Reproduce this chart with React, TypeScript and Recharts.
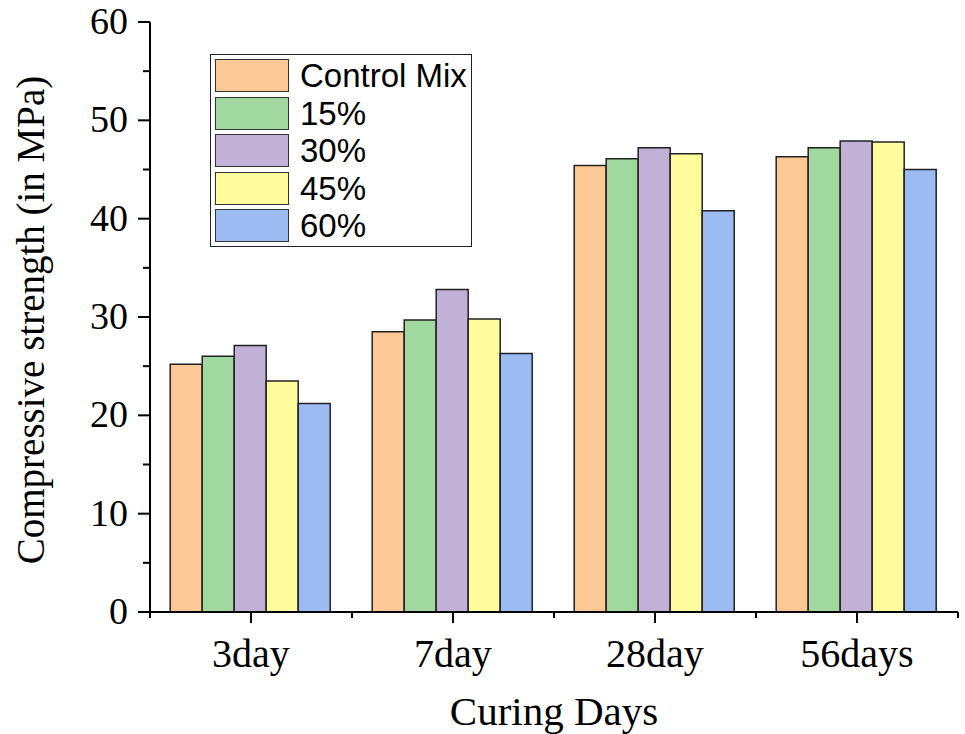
import React from 'react';
import { BarChart, Bar, XAxis, YAxis } from 'recharts';

const DAYS = ['3day', '7day', '28day', '56days'];
const CONTROL_MIX = [25.2, 28.5, 45.4, 46.3];
const PCT_15 = [26.0, 29.7, 46.1, 47.2];
const PCT_30 = [27.1, 32.8, 47.2, 47.9];
const PCT_45 = [23.5, 29.8, 46.6, 47.8];
const PCT_60 = [21.2, 26.3, 40.8, 45.0];
const Y_TICKS = [0, 5, 10, 15, 20, 25, 30, 35, 40, 45, 50, 55, 60];

const SERIES = [
  { key: 'control', name: 'Control Mix', values: CONTROL_MIX, color: '#fcc896' },
  { key: 'p15', name: '15%', values: PCT_15, color: '#a0d89f' },
  { key: 'p30', name: '30%', values: PCT_30, color: '#c2b1d6' },
  { key: 'p45', name: '45%', values: PCT_45, color: '#fffc9e' },
  { key: 'p60', name: '60%', values: PCT_60, color: '#9cbbf2' },
];

const data = DAYS.map((day, i) => {
  const row: Record<string, any> = { day };
  SERIES.forEach((s) => (row[s.key] = s.values[i]));
  return row;
});

const serif = '"Liberation Serif", "Times New Roman", serif';
const sans = '"Liberation Sans", Arial, sans-serif';
const axisLine = { stroke: '#000', strokeWidth: 2 };

// bottom category ticks: major at the centre, minor at the group edges
const BottomTick = (props: any) => {
  const { x, y, payload, index, visibleTicksCount } = props;
  const off = payload.offset || 0;
  return (
    <g>
      <line x1={x} x2={x} y1={y} y2={y + 11} stroke="#000" strokeWidth={2} />
      <line x1={x - off} x2={x - off} y1={y} y2={y + 6} stroke="#000" strokeWidth={2} />
      {index === visibleTicksCount - 1 && (
        <line x1={x + off} x2={x + off} y1={y} y2={y + 6} stroke="#000" strokeWidth={2} />
      )}
      <text x={x} y={y + 55} textAnchor="middle" fontFamily={serif} fontSize={40} fill="#000">
        {payload.value}
      </text>
    </g>
  );
};

const TopTick = (props: any) => {
  const { x, y, payload, index, visibleTicksCount } = props;
  const off = payload.offset || 0;
  return (
    <g>
      <line x1={x} x2={x} y1={y} y2={y - 10} stroke="#000" strokeWidth={2} />
      <line x1={x - off} x2={x - off} y1={y} y2={y - 5} stroke="#000" strokeWidth={2} />
      {index === visibleTicksCount - 1 && (
        <line x1={x + off} x2={x + off} y1={y} y2={y - 5} stroke="#000" strokeWidth={2} />
      )}
    </g>
  );
};

const LeftTick = (props: any) => {
  const { x, y, payload } = props;
  const major = payload.value % 10 === 0;
  return (
    <g>
      <line x1={x} x2={x - (major ? 12 : 7)} y1={y} y2={y} stroke="#000" strokeWidth={2} />
      {major && (
        <text x={x - 22} y={y + 12} textAnchor="end" fontFamily={serif} fontSize={38} fill="#000">
          {payload.value}
        </text>
      )}
    </g>
  );
};

const RightTick = (props: any) => {
  const { x, y } = props;
  return <line x1={x} x2={x + 7} y1={y} y2={y} stroke="#000" strokeWidth={2} />;
};

const App: React.FC = () => {
  return (
    <div style={{ position: 'absolute', left: 0, top: 0, width: 965, height: 734, background: '#fff' }}>
      <BarChart
        width={965}
        height={734}
        data={data}
        margin={{ top: 22, right: 7, left: 0, bottom: 0 }}
        barCategoryGap="10%"
        barGap={0}
      >
        <XAxis
          dataKey="day"
          height={122}
          axisLine={axisLine}
          tickLine={false}
          tickSize={0}
          tickMargin={0}
          tick={<BottomTick />}
          interval={0}
          label={{
            content: (p: any) => {
              const vb = p.viewBox;
              return (
                <text x={vb.x + vb.width / 2} y={vb.y + 113} textAnchor="middle" fontFamily={serif} fontSize={41} fill="#000">
                  Curing Days
                </text>
              );
            },
          }}
        />
        <XAxis
          xAxisId="top"
          dataKey="day"
          orientation="top"
          height={0}
          axisLine={axisLine}
          tickLine={false}
          tickSize={0}
          tickMargin={0}
          tick={<TopTick />}
          interval={0}
        />
        <YAxis
          width={150}
          domain={[0, 60]}
          ticks={Y_TICKS}
          interval={0}
          axisLine={axisLine}
          tickLine={false}
          tickSize={0}
          tickMargin={0}
          tick={<LeftTick />}
          label={{
            content: (p: any) => {
              const vb = p.viewBox;
              const cx = vb.x + 30;
              const cy = vb.y + vb.height / 2 + 3;
              return (
                <text
                  x={cx}
                  y={cy}
                  transform={`rotate(-90, ${cx}, ${cy})`}
                  textAnchor="middle"
                  dominantBaseline="central"
                  fontFamily={serif}
                  fontSize={39}
                  fill="#000"
                >
                  Compressive strength (in MPa)
                </text>
              );
            },
          }}
        />
        <YAxis
          yAxisId="right"
          orientation="right"
          width={0}
          domain={[0, 60]}
          ticks={Y_TICKS}
          interval={0}
          axisLine={axisLine}
          tickLine={false}
          tickSize={0}
          tickMargin={0}
          tick={<RightTick />}
        />
        {SERIES.map((s) => (
          <Bar
            key={s.key}
            dataKey={s.key}
            name={s.name}
            fill={s.color}
            stroke="#222"
            strokeWidth={1.5}
            isAnimationActive={false}
          />
        ))}
      </BarChart>
      <div
        style={{
          position: 'absolute',
          left: 210,
          top: 54,
          width: 262,
          height: 193,
          boxSizing: 'border-box',
          border: '1.5px solid #222',
          background: '#fff',
        }}
      >
        {SERIES.map((s, i) => (
          <div
            key={s.key}
            style={{
              position: 'absolute',
              left: 4,
              top: 4 + i * 37.6,
              height: 33,
              display: 'flex',
              alignItems: 'center',
            }}
          >
            <div
              style={{
                width: 74,
                height: 33,
                boxSizing: 'border-box',
                background: s.color,
                border: '1.5px solid #333',
              }}
            />
            <span style={{ marginLeft: 11, fontFamily: sans, fontSize: 33, lineHeight: '33px', color: '#000', whiteSpace: 'nowrap' }}>
              {s.name}
            </span>
          </div>
        ))}
      </div>
    </div>
  );
};

export default App;
